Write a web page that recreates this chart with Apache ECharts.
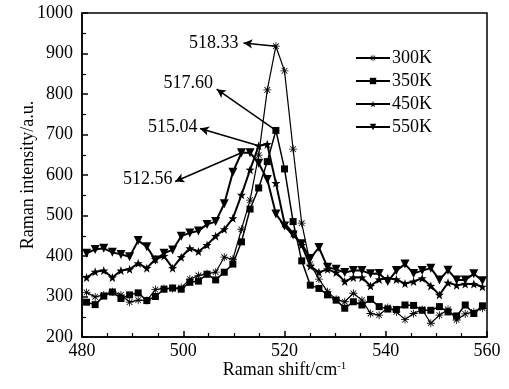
<!DOCTYPE html>
<html>
<head>
<meta charset="utf-8">
<script src="https://cdn.jsdelivr.net/npm/echarts@6/dist/echarts.min.js"></script>
<style>
  html, body { margin: 0; padding: 0; background: #fff; }
  #chart { width: 509px; height: 389px; }
</style>
</head>
<body>
<div id="chart"></div>
<script>
const FONT = '"Liberation Serif", "Times New Roman", serif';

const shift = [
  480.9, 482.6, 484.3, 486.0, 487.7, 489.4, 491.1, 492.8, 494.5, 496.2,
  497.9, 499.6, 501.3, 503.0, 504.7, 506.4, 508.1, 509.8, 511.5, 513.2,
  514.9, 516.6, 518.3, 520.0, 521.7, 523.4, 525.1, 526.8, 528.5, 530.2,
  531.9, 533.6, 535.3, 537.0, 538.7, 540.4, 542.1, 543.8, 545.5, 547.2,
  548.9, 550.6, 552.3, 554.0, 555.7, 557.4, 559.1
];

const k300 = [
  310, 299, 304, 312, 304, 286, 291, 290, 317, 320,
  320, 322, 343, 352, 356, 360, 397, 392, 466, 538,
  649, 810, 918, 857, 664, 481, 380, 343, 312, 293,
  287, 308, 291, 258, 254, 273, 262, 243, 258, 268,
  234, 254, 268, 242, 257, 262, 271
];

const k350 = [
  286, 280, 301, 311, 295, 304, 309, 290, 300, 318,
  321, 318, 335, 338, 355, 341, 360, 380, 435, 516,
  568, 633, 710, 615, 485, 388, 328, 320, 304, 291,
  271, 287, 279, 293, 275, 269, 268, 279, 278, 266,
  266, 275, 262, 252, 279, 258, 277
];

const k450 = [
  347, 361, 364, 347, 364, 367, 382, 370, 392, 400,
  370, 397, 419, 411, 427, 449, 466, 493, 551, 613,
  672, 676, 580, 481, 456, 427, 375, 360, 367, 359,
  337, 347, 347, 326, 342, 345, 342, 332, 337, 345,
  326, 304, 334, 328, 331, 331, 324
];

const k550 = [
  407, 416, 419, 409, 404, 398, 438, 423, 390, 407,
  415, 449, 457, 462, 478, 485, 529, 607, 655, 655,
  629, 589, 504, 474, 452, 430, 394, 421, 372, 367,
  359, 364, 364, 356, 357, 337, 364, 380, 357, 364,
  370, 341, 365, 341, 341, 356, 339
];

// peak annotations: [label, peak x, peak y, arrow head x, arrow head y, text x, text y]
const peakNotes = [
  ['518.33', 518.3, 918, 511.9, 926, 510.9, 926],
  ['517.60', 518.3, 710, 506.6, 812, 505.9, 827],
  ['515.04', 514.9, 672, 503.3, 715, 502.8, 718],
  ['512.56', 511.5, 655, 498.4, 584, 497.9, 590]
];

const asterisk = 'path://M-1,-10L1,-10L1,10L-1,10Z M-10,-1L10,-1L10,1L-10,1Z ' +
  'M-7.8,-6.4L-6.4,-7.8L7.8,6.4L6.4,7.8Z M6.4,-7.8L7.8,-6.4L-6.4,7.8L-7.8,6.4Z';
const star5 = 'path://M0,-10L2.35,-3.24L9.51,-3.09L3.8,1.24L5.88,8.09L0,4L-5.88,8.09L-3.8,1.24L-9.51,-3.09L-2.35,-3.24Z';

const pairs = ys => shift.map((x, i) => [x, ys[i]]);

const chart = echarts.init(document.getElementById('chart'));

const mkSeries = (name, ys, symbol, size, width, extra) => Object.assign({
  name,
  type: 'line',
  data: pairs(ys),
  symbol,
  symbolSize: size,
  showAllSymbol: true,
  lineStyle: { color: '#000', width },
  itemStyle: { color: '#000' },
  emphasis: { disabled: true }
}, extra || {});

chart.setOption({
  animation: false,
  backgroundColor: '#fff',
  grid: {
    left: 82, right: 22, top: 13, bottom: 52,
    show: true, borderColor: '#000', borderWidth: 1.5
  },
  legend: {
    orient: 'vertical',
    left: 350, top: 44,
    itemWidth: 34, itemHeight: 8, itemGap: 5,
    textStyle: { fontFamily: FONT, fontSize: 18, color: '#000', padding: [0, 0, 0, -3] },
    data: ['300K', '350K', '450K', '550K']
  },
  xAxis: {
    type: 'value',
    min: 480, max: 560, interval: 20,
    name: 'Raman shift/cm{sup|-1}',
    nameLocation: 'middle',
    nameMoveOverlap: false,
    nameGap: 24,
    nameTextStyle: {
      fontFamily: FONT, fontSize: 18, color: '#000',
      rich: { sup: { fontFamily: FONT, fontSize: 11, verticalAlign: 'top', padding: [0, 0, 8, 0] } }
    },
    axisLine: { lineStyle: { color: '#000', width: 1.5 } },
    axisTick: { inside: true, length: 6, lineStyle: { color: '#000', width: 1.5 } },
    minorTick: { show: true, splitNumber: 4, length: 4, lineStyle: { color: '#000', width: 1.2 } },
    axisLabel: { fontFamily: FONT, fontSize: 18, color: '#000', margin: 5 },
    splitLine: { show: false }
  },
  yAxis: {
    type: 'value',
    min: 200, max: 1000, interval: 100,
    name: 'Raman intensity/a.u.',
    nameLocation: 'middle',
    nameMoveOverlap: false,
    nameGap: 45,
    nameTextStyle: { fontFamily: FONT, fontSize: 18, color: '#000' },
    axisLine: { show: true, lineStyle: { color: '#000', width: 1.5 } },
    axisTick: { inside: true, length: 6, lineStyle: { color: '#000', width: 1.5 } },
    minorTick: { show: true, splitNumber: 2, length: 4, lineStyle: { color: '#000', width: 1.2 } },
    axisLabel: { fontFamily: FONT, fontSize: 18, color: '#000', margin: 9, formatter: v => String(v) },
    splitLine: { show: false }
  },
  series: [
    mkSeries('300K', k300, asterisk, 8, 1.2, {
      markLine: {
        silent: true,
        symbol: ['none', 'arrow'],
        symbolSize: [7, 9],
        lineStyle: { color: '#000', width: 1.5, type: 'solid' },
        label: { show: false },
        data: peakNotes.map(n => [{ coord: [n[1], n[2]] }, { coord: [n[3], n[4]] }])
      },
      markPoint: {
        silent: true,
        symbol: 'circle',
        symbolSize: 0,
        label: {
          show: true, position: 'left', distance: 0,
          fontFamily: FONT, fontSize: 18, color: '#000',
          formatter: p => p.name
        },
        data: peakNotes.map(n => ({ name: n[0], coord: [n[5], n[6]] }))
      }
    }),
    mkSeries('350K', k350, 'rect', 7, 1.5),
    mkSeries('450K', k450, star5, 9, 2),
    mkSeries('550K', k550, 'triangle', 9, 2, { symbolRotate: 180 })
  ]
});
</script>
</body>
</html>
